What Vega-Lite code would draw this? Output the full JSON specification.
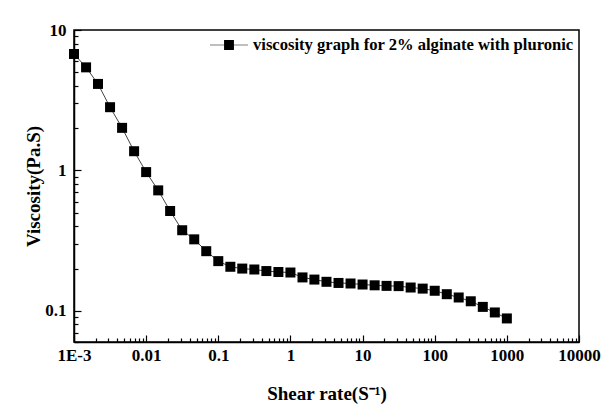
{
  "$schema": "https://vega.github.io/schema/vega-lite/v6.json",
  "width": 505,
  "height": 312,
  "autosize": "none",
  "padding": {"left": 74, "top": 30, "right": 35, "bottom": 65},
  "background": "white",
  "config": {
    "font": "Liberation Serif",
    "view": {"stroke": "black", "strokeWidth": 1.5},
    "axis": {
      "domainColor": "black", "domainWidth": 1.5,
      "tickColor": "black", "tickWidth": 1.2,
      "labelFont": "Liberation Serif", "labelFontWeight": "bold", "labelFontSize": 17, "labelColor": "black",
      "titleFont": "Liberation Serif", "titleFontWeight": "bold", "titleFontSize": 19, "titleColor": "black",
      "grid": false, "labelFlush": false, "labelOverlap": false
    }
  },
  "data": {
    "values": [
      {"shear": 0.001, "viscosity": 6.75},
      {"shear": 0.00147, "viscosity": 5.42},
      {"shear": 0.00215, "viscosity": 4.13},
      {"shear": 0.00316, "viscosity": 2.82},
      {"shear": 0.00464, "viscosity": 2.01},
      {"shear": 0.00681, "viscosity": 1.37},
      {"shear": 0.01, "viscosity": 0.973},
      {"shear": 0.0147, "viscosity": 0.721},
      {"shear": 0.0215, "viscosity": 0.514},
      {"shear": 0.0316, "viscosity": 0.375},
      {"shear": 0.0464, "viscosity": 0.323},
      {"shear": 0.0681, "viscosity": 0.266},
      {"shear": 0.1, "viscosity": 0.226},
      {"shear": 0.147, "viscosity": 0.206},
      {"shear": 0.215, "viscosity": 0.2},
      {"shear": 0.316, "viscosity": 0.197},
      {"shear": 0.464, "viscosity": 0.192},
      {"shear": 0.681, "viscosity": 0.189},
      {"shear": 1, "viscosity": 0.1875},
      {"shear": 1.47, "viscosity": 0.173},
      {"shear": 2.15, "viscosity": 0.167},
      {"shear": 3.16, "viscosity": 0.161},
      {"shear": 4.64, "viscosity": 0.158},
      {"shear": 6.81, "viscosity": 0.1566},
      {"shear": 10, "viscosity": 0.154},
      {"shear": 14.7, "viscosity": 0.152},
      {"shear": 21.5, "viscosity": 0.1506},
      {"shear": 31.6, "viscosity": 0.15},
      {"shear": 46.4, "viscosity": 0.1466},
      {"shear": 68.1, "viscosity": 0.144},
      {"shear": 100, "viscosity": 0.139},
      {"shear": 147, "viscosity": 0.1314},
      {"shear": 215, "viscosity": 0.1245},
      {"shear": 316, "viscosity": 0.117},
      {"shear": 464, "viscosity": 0.1067},
      {"shear": 681, "viscosity": 0.0974},
      {"shear": 1000, "viscosity": 0.0883}
    ]
  },
  "layer": [
    {
      "mark": {"type": "line", "color": "#444", "strokeWidth": 1},
      "encoding": {
        "x": {
          "field": "shear", "type": "quantitative",
          "scale": {"type": "log", "domain": [0.001, 10000], "nice": false},
          "axis": {
            "title": "Shear rate(S⁻¹)",
            "values": [0.001,0.002,0.003,0.004,0.005,0.006,0.007,0.008,0.009,0.01,0.02,0.03,0.04,0.05,0.06,0.07,0.08,0.09,0.1,0.2,0.3,0.4,0.5,0.6,0.7,0.8,0.9,1,2,3,4,5,6,7,8,9,10,20,30,40,50,60,70,80,90,100,200,300,400,500,600,700,800,900,1000,2000,3000,4000,5000,6000,7000,8000,9000,10000],
            "tickSize": {"condition": {"test": "abs(log(datum.value)/LN10 - round(log(datum.value)/LN10)) < 0.001", "value": -7}, "value": -4},
            "labelExpr": "abs(log(datum.value)/LN10 - round(log(datum.value)/LN10)) < 0.001 ? (datum.value < 0.005 ? '1E-3' : format(datum.value, '')) : ''",
            "labelPadding": 12,
            "titlePadding": 18
          }
        },
        "y": {
          "field": "viscosity", "type": "quantitative",
          "scale": {"type": "log", "domain": [0.06, 10], "nice": false},
          "axis": {
            "title": "Viscosity(Pa.S)",
            "values": [0.06,0.07,0.08,0.09,0.1,0.2,0.3,0.4,0.5,0.6,0.7,0.8,0.9,1,2,3,4,5,6,7,8,9,10],
            "tickSize": {"condition": {"test": "abs(log(datum.value)/LN10 - round(log(datum.value)/LN10)) < 0.001", "value": -7}, "value": -4},
            "labelExpr": "abs(log(datum.value)/LN10 - round(log(datum.value)/LN10)) < 0.001 ? format(datum.value, '') : ''",
            "labelPadding": 15,
            "titlePadding": 1
          }
        }
      }
    },
    {
      "mark": {"type": "point", "shape": "square", "filled": true, "size": 100, "opacity": 1},
      "encoding": {
        "x": {"field": "shear", "type": "quantitative"},
        "y": {"field": "viscosity", "type": "quantitative"},
        "color": {
          "datum": "viscosity graph for 2% alginate with pluronic",
          "scale": {"range": ["black"]},
          "legend": {
            "title": null,
            "orient": "none",
            "legendX": 136,
            "legendY": -4,
            "symbolType": "M-1,-0.015H1V0.015H-1ZM-0.26,-0.26H0.26V0.26H-0.26Z",
            "symbolSize": 1444,
            "symbolFillColor": "black",
            "symbolStrokeWidth": 0,
            "labelFont": "Liberation Serif",
            "labelFontWeight": "bold",
            "labelFontSize": 16.6,
            "labelLimit": 0,
            "labelColor": "black",
            "labelOffset": 5,
            "padding": 0
          }
        }
      }
    }
  ]
}
